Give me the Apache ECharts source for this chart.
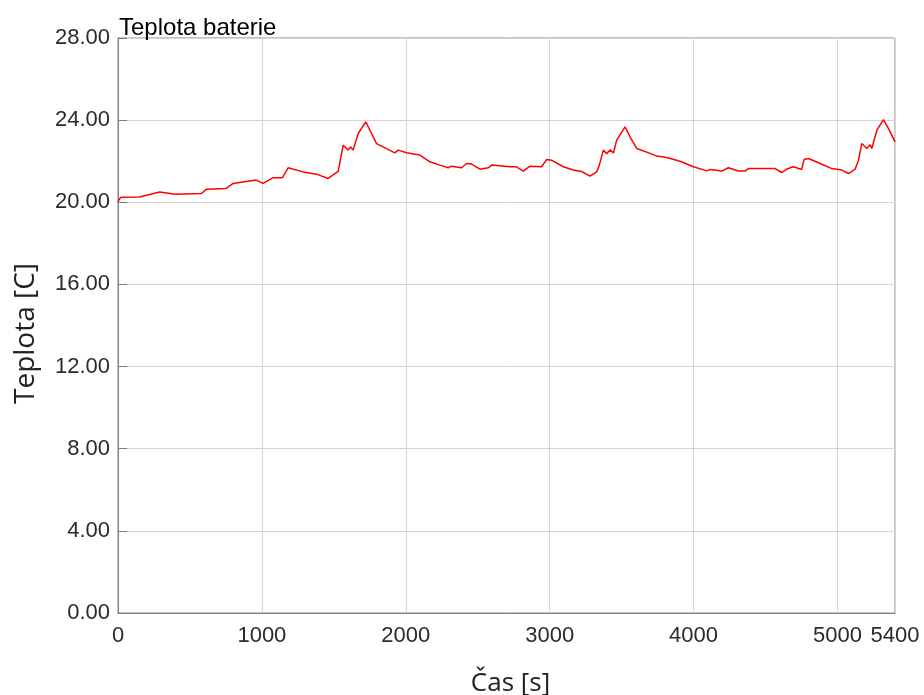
<!DOCTYPE html>
<html>
<head>
<meta charset="utf-8">
<script src="https://cdn.jsdelivr.net/npm/echarts@6/dist/echarts.min.js"></script>
<style>
  html, body { margin: 0; padding: 0; background: #fff; }
  #chart { width: 924px; height: 695px; }
</style>
</head>
<body>
<div id="chart"></div>
<script>
// cas [s]
const times = [0, 5, 20, 150, 290, 400, 580, 615, 750, 800, 960, 1008, 1078, 1143, 1182, 1287, 1380, 1460, 1530, 1565,
  1600, 1615, 1634, 1669, 1722, 1797, 1924, 1947, 2005, 2098, 2168, 2237, 2295, 2318, 2388, 2423, 2458, 2515, 2573, 2597,
  2724, 2770, 2817, 2863, 2944, 2956, 2979, 3013, 3095, 3164, 3222, 3280, 3327, 3345, 3373, 3396, 3420, 3443, 3466, 3524,
  3558, 3605, 3698, 3744, 3814, 3906, 3999, 4092, 4115, 4196, 4242, 4312, 4358, 4381, 4567, 4613, 4648, 4694, 4752, 4768,
  4799, 4880, 4961, 5031, 5077, 5123, 5146, 5169, 5204, 5227, 5239, 5274, 5320, 5355, 5400]
// teplota [C]
const temps = [20.0, 20.1, 20.25, 20.26, 20.5, 20.39, 20.43, 20.64, 20.67, 20.92, 21.08, 20.92, 21.2, 21.2, 21.68, 21.48, 21.37, 21.16, 21.5, 22.78,
  22.54, 22.7, 22.54, 23.35, 23.92, 22.86, 22.41, 22.54, 22.41, 22.3, 21.97, 21.81, 21.68, 21.76, 21.68, 21.89, 21.86, 21.61, 21.68, 21.81,
  21.73, 21.73, 21.52, 21.76, 21.73, 21.68, 22.08, 22.05, 21.73, 21.57, 21.5, 21.27, 21.48, 21.81, 22.54, 22.37, 22.55, 22.4, 23.03, 23.67,
  23.19, 22.62, 22.38, 22.25, 22.18, 22.0, 21.73, 21.53, 21.6, 21.52, 21.68, 21.52, 21.52, 21.64, 21.64, 21.45, 21.62, 21.73, 21.6, 22.08,
  22.13, 21.89, 21.64, 21.57, 21.4, 21.61, 22.05, 22.86, 22.62, 22.8, 22.62, 23.51, 24.03, 23.59, 22.94]

const xMin = 0, xMax = 5400, xStep = 1000
const yMin = 0, yMax = 28, yStep = 4

const data = times.map((t, i) => [t, temps[i]])

const chart = echarts.init(document.getElementById('chart'))
const labelFont = { fontFamily: 'Liberation Sans', fontSize: 22, color: '#2a2a2a' }

const option = {
  animation: false,
  title: {
    text: 'Teplota baterie',
    left: 114, top: 11,
    textStyle: { fontFamily: 'Liberation Sans', fontSize: 24, fontWeight: 'normal', color: '#000' }
  },
  grid: {
    left: 118, right: 29, top: 38, bottom: 82,
    outerBoundsMode: 'none',
    show: true, borderColor: '#888', borderWidth: 1
  },
  xAxis: {
    type: 'value', min: xMin, max: xMax, interval: xStep,
    name: 'Čas [s]', nameLocation: 'middle', nameGap: 58,
    nameTextStyle: { fontFamily: 'Open Sans', fontSize: 26, color: '#222', padding: [0, 0, 0, 8] },
    axisLine: { lineStyle: { color: '#808080' } },
    axisTick: { show: false },
    axisLabel: Object.assign({ margin: 12, formatter: v => String(v) }, labelFont),
    splitLine: { lineStyle: { color: '#d4d4d4' } }
  },
  yAxis: {
    type: 'value', min: yMin, max: yMax, interval: yStep,
    name: 'Teplota [C]', nameLocation: 'middle', nameGap: 78,
    nameTextStyle: { fontFamily: 'Open Sans', fontSize: 28, color: '#222', padding: [0, 16, 0, 0] },
    axisLine: { show: true, lineStyle: { color: '#808080' } },
    axisTick: { show: true, inside: true, length: 9, lineStyle: { color: '#808080' } },
    axisLabel: Object.assign({ margin: 8, formatter: v => v.toFixed(2) }, labelFont),
    splitLine: { lineStyle: { color: '#d4d4d4' } }
  },
  series: [{
    type: 'line',
    data: data,
    showSymbol: false,
    lineStyle: { color: '#ff0000', width: 1.5 }
  }]
}
chart.setOption(option)
</script>
</body>
</html>
